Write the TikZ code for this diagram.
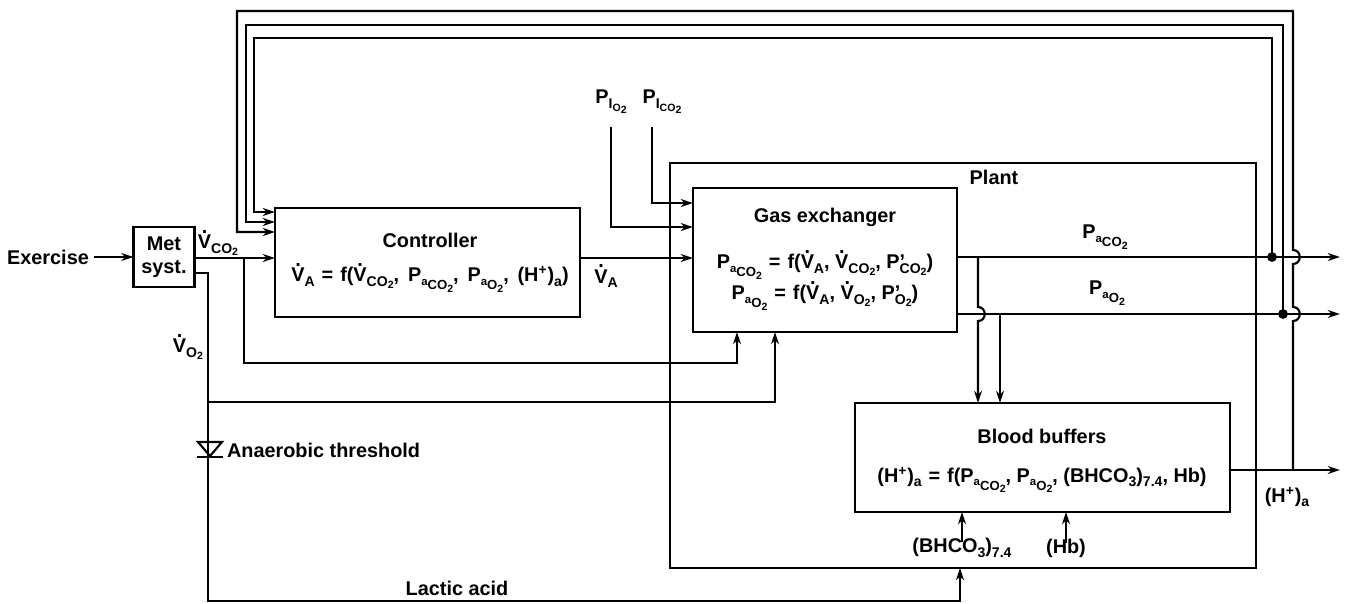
\documentclass[tikz,border=0pt]{standalone}
\usepackage{fontspec}
\setmainfont{Liberation Sans}
\usetikzlibrary{arrows.meta}
\newcommand{\sa}[1]{\raisebox{-2.5pt}{\fontsize{8}{9}\selectfont #1}}
\newcommand{\sbb}[1]{\raisebox{-1.5pt}{\fontsize{6}{7}\selectfont #1}}
\newcommand{\Pa}[1]{P\raisebox{-2pt}{\fontsize{6.5}{7}\selectfont a\raisebox{-2.5pt}{\fontsize{7.5}{8}\selectfont #1}}}
\newcommand{\Vd}{\makebox[0pt][l]{\hspace{0.2em}\raisebox{0.78em}{.}}V}
\newcommand{\eqs}{\hspace{0.35em}=\hspace{0.35em}}

\begin{document}
\begin{tikzpicture}[x=0.02cm, y=-0.02cm, line width=1.2pt,
  font=\fontsize{11.3}{13}\selectfont\bfseries,
  bloc/.style={draw, inner sep=0pt, outer sep=0pt},
  lbl/.style={inner sep=0pt},
  fl/.style={-{Stealth[length=7pt,width=4.5pt]}}]
  \useasboundingbox (0,0) rectangle (1345,604);

  % Blocs
  \node[bloc, minimum width=1.22cm, minimum height=1.2cm, align=center] (met) at (164,257) {Met\\syst.};
  \node[bloc, minimum width=6.1cm, minimum height=2.18cm] (ctrl) at (427.5,262.5) {};
  \node[bloc, minimum width=5.28cm, minimum height=2.88cm] (gas) at (825,260) {};
  \node[bloc, minimum width=7.5cm, minimum height=2.18cm] (bb) at (1042.5,457.5) {};
  \node[bloc, minimum width=11.72cm, minimum height=8.1cm] (plant) at (963,365.5) {};

  % Textes des blocs
  \node[lbl] (ctrltitle) at (430,240) {Controller};
  \node[lbl] (ctrleq) at (430,278) {\Vd\sa{A}\eqs f(\Vd\sa{CO\sbb{2}},\, \Pa{CO\sbb{2}},\, \Pa{O\sbb{2}},\, (H\textsuperscript{+})\sa{a})};
  \node[lbl] (gastitle) at (825,217) {Gas exchanger};
  \node[lbl] (gaseqa) at (825,265) {\Pa{CO\sbb{2}}\eqs f(\Vd\sa{A}, \Vd\sa{CO\sbb{2}}, P\rlap{’}\sa{CO\sbb{2}})};
  \node[lbl] (gaseqb) at (825,296) {\Pa{O\sbb{2}}\eqs f(\Vd\sa{A}, \Vd\sa{O\sbb{2}}, P\rlap{’}\sa{O\sbb{2}})};
  \node[lbl] (bbtitle) at (1042,436) {Blood buffers};
  \node[lbl] (bbeq) at (1042,480) {(H\textsuperscript{+})\sa{a}\eqs f(\Pa{CO\sbb{2}}, \Pa{O\sbb{2}}, (BHCO\sa{3})\sa{7.4}, Hb)};
  \node[lbl] (plantlbl) at (994,177) {Plant};

  % Etiquettes des signaux
  \node[lbl] (exo) at (48,257) {Exercise};
  \node[lbl] (vco2) at (218,243) {\Vd\sa{CO\sbb{2}}};
  \node[lbl] (vo2) at (188,347) {\Vd\sa{O\sbb{2}}};
  \node[lbl] (va) at (606,276) {\Vd\sa{A}};
  \node[lbl] (pio2) at (611,102) {P\sa{I\sbb{O\sbb{2}}}};
  \node[lbl] (pico2) at (662,102) {P\sa{I\sbb{CO\sbb{2}}}};
  \node[lbl] (paco2) at (1105,237) {\Pa{CO\sbb{2}}};
  \node[lbl] (pao2) at (1107,293) {\Pa{O\sbb{2}}};
  \node[lbl] (hout) at (1287,497) {(H\textsuperscript{+})\sa{a}};
  \node[lbl] (bhco3) at (962,548) {(BHCO\sa{3})\sa{7.4}};
  \node[lbl] (hb) at (1066,548) {(Hb)};
  \node[lbl] (lact) at (457,588) {Lactic acid};
  \node[lbl, anchor=west] (anaer) at (226,450) {Anaerobic threshold};

  % Points de branchement
  \coordinate (b1) at (244,258);
  \coordinate (b2) at (208,402);
  \coordinate (j1) at (1272,257);
  \coordinate (j2) at (1283,314);
  \coordinate (j3) at (1293,470);
  \coordinate (oco2) at (1340,257);
  \coordinate (oo2) at (1340,314);
  \coordinate (oh) at (1340,470);

  % Chaine principale
  \draw[fl] (exo.east) ++(4,0) -- (met.west);
  \draw[fl] (met.east |- 0,258) -- (ctrl.west |- 0,258);
  \draw[fl] (ctrl.east |- 0,258) -- (gas.west |- 0,258);
  \draw[fl] ([yshift=-0.25cm]pio2.south) |- (gas.west |- 0,227);
  \draw[fl] ([xshift=-0.2cm,yshift=-0.25cm]pico2.south) |- (gas.west |- 0,203);
  \draw[fl] (b1) |- (737,363) -- (gas.south -| 737,0);

  % VO2 et seuil anaerobie
  \draw (met.east |- 0,273) -| (b2);
  \draw[fl] (b2) -| (gas.south -| 775,0);
  \draw[fl] (b2) |- (960,601) -- (plant.south -| 960,0);
  \draw (198,442) -- (222,442) -- (210,456) -- cycle;
  \draw (197,457) -- (223,457);

  % Sorties de l'echangeur
  \draw[fl] (gas.east |- 0,257) -- (oco2);
  \draw[fl] (gas.east |- 0,314) -- (oo2);
  \draw[fl] (978,257) -- (978,307) .. controls (987,307) and (987,321) .. (978,321) -- (bb.north -| 978,0);
  \draw[fl] (1000,314) -- (bb.north -| 1000,0);
  \draw[fl] (bb.east |- 0,470) -- (oh);
  \draw[fl] ([yshift=-0.1cm]bhco3.north) -- (bb.south -| bhco3.north);
  \draw[fl] ([yshift=-0.1cm]hb.north) -- (bb.south -| hb.north);

  % Boucles de retour
  \fill (j1) circle (2.8pt);
  \fill (j2) circle (2.8pt);
  \draw[fl] (j1) -- (1272,38) -| (254,212) -- (ctrl.west |- 0,212);
  \draw[fl] (j2) -- (1283,25) -| (246,222) -- (ctrl.west |- 0,222);
  \draw[fl] (j3) -- (1293,321) .. controls (1302,321) and (1302,307) .. (1293,307) -- (1293,264)
    .. controls (1302,264) and (1302,250) .. (1293,250) -- (1293,11) -| (237,232) -- (ctrl.west |- 0,232);
\end{tikzpicture}
\end{document}
